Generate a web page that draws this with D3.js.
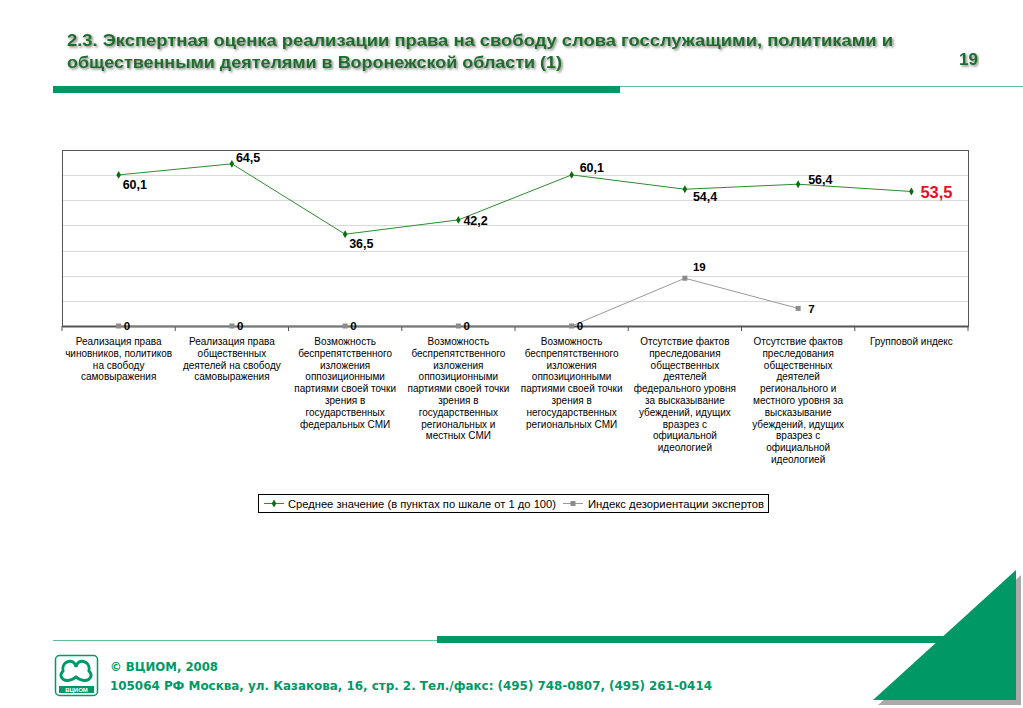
<!DOCTYPE html>
<html lang="ru">
<head>
<meta charset="UTF-8" />
<title>2.3. Экспертная оценка</title>
<script src="https://d3js.org/d3.v7.min.js"></script>
<style>
  body { margin: 0; background: #fff; }
  svg { display: block; font-family: "Liberation Sans", Arial, sans-serif; }
  .grid line { stroke: #d9d9d9; stroke-width: 1px; }
  .catlabel { font-size: 10px; fill: #000; }
  .val { font-weight: bold; }
  .ival { font-size: 11.5px; font-weight: bold; fill: #000; }
  .legend text { font-size: 10.8px; fill: #000; }
</style>
</head>
<body>
<div id="chart"></div>
<script>
const W = 1023, H = 708;

const categories = [
  ["Реализация права", "чиновников, политиков", "на свободу", "самовыражения"],
  ["Реализация права", "общественных", "деятелей на свободу", "самовыражения"],
  ["Возможность", "беспрепятственного", "изложения", "оппозиционными", "партиями своей точки", "зрения в", "государственных", "федеральных СМИ"],
  ["Возможность", "беспрепятственного", "изложения", "оппозиционными", "партиями своей точки", "зрения в", "государственных", "региональных и", "местных СМИ"],
  ["Возможность", "беспрепятственного", "изложения", "оппозиционными", "партиями своей точки", "зрения в", "негосударственных", "региональных СМИ"],
  ["Отсутствие фактов", "преследования", "общественных", "деятелей", "федерального уровня", "за высказывание", "убеждений, идущих", "вразрез с", "официальной", "идеологией"],
  ["Отсутствие фактов", "преследования", "общественных", "деятелей", "регионального и", "местного уровня за", "высказывание", "убеждений, идущих", "вразрез с", "официальной", "идеологией"],
  ["Групповой индекс"]
];
const meanValues = [60.1, 64.5, 36.5, 42.2, 60.1, 54.4, 56.4, 53.5];
const indexValues = [0, 0, 0, 0, 0, 19, 7, null];
const yTicks = [0, 10, 20, 30, 40, 50, 60, 70];
const seriesNames = ["Среднее значение (в пунктах по шкале от 1 до 100)", "Индекс дезориентации экспертов"];

// label placement for mean series: [dx, dy]
const meanLabelOffset = [[4, 14], [4, -2], [4, 14], [5, 5], [8, -3], [8, 12], [10, 0], [9, 7]];
const indexLabelOffset = [[5, 4], [5, 4], [5, 4], [5, 4], [5, 4], [8, -7], [10, 5], [0, 0]];

const green = "#009966";
const titleGreen = "#1a6e2a";

const svg = d3.select("#chart").append("svg").attr("width", W).attr("height", H);

// ---- header
const defs = svg.append("defs");
const sh = defs.append("filter").attr("id", "tshadow").attr("x", "-5%").attr("y", "-20%").attr("width", "110%").attr("height", "150%");
sh.append("feDropShadow").attr("dx", 1.5).attr("dy", 1.5).attr("stdDeviation", 0.9).attr("flood-color", "#666").attr("flood-opacity", 0.8);

const title = svg.append("text").attr("x", 67).attr("y", 46)
  .attr("fill", titleGreen).attr("font-size", 17).attr("font-weight", "bold")
  .attr("filter", "url(#tshadow)");
title.append("tspan").attr("x", 67).attr("y", 46)
  .attr("textLength", 826).attr("lengthAdjust", "spacingAndGlyphs")
  .text("2.3. Экспертная оценка реализации права на свободу слова госслужащими, политиками и");
title.append("tspan").attr("x", 67).attr("y", 68)
  .attr("textLength", 495).attr("lengthAdjust", "spacingAndGlyphs")
  .text("общественными деятелями в Воронежской области (1)");

svg.append("text").attr("x", 978).attr("y", 65).attr("text-anchor", "end")
  .attr("fill", titleGreen).attr("font-size", 17).attr("font-weight", "bold")
  .attr("filter", "url(#tshadow)").text("19");

svg.append("rect").attr("x", 53).attr("y", 86).attr("width", 567).attr("height", 7).attr("fill", green);
svg.append("line").attr("x1", 620).attr("x2", W).attr("y1", 86.5).attr("y2", 86.5)
  .attr("stroke", "#66bb99").attr("stroke-width", 1.2);

// ---- chart
const plot = { left: 62, top: 150, right: 968, bottom: 326 };

const x = d3.scaleBand().domain(d3.range(categories.length))
  .range([plot.left, plot.right]).padding(0);
const y = d3.scaleLinear().domain([0, 70]).range([plot.bottom, plot.top]);
const cx = i => x(i) + x.bandwidth() / 2;

const g = svg.append("g");

g.append("g").attr("class", "grid").selectAll("line")
  .data(yTicks.slice(1, -1)).enter().append("line")
  .attr("x1", plot.left).attr("x2", plot.right)
  .attr("y1", d => Math.round(y(d)) + 0.5).attr("y2", d => Math.round(y(d)) + 0.5);

g.append("rect").attr("x", plot.left + 0.5).attr("y", plot.top + 0.5)
  .attr("width", plot.right - plot.left).attr("height", plot.bottom - plot.top)
  .attr("fill", "none").attr("stroke", "#555").attr("stroke-width", 1);

// x axis with tick marks between categories
const xAxis = g.append("g").attr("transform", `translate(0,${plot.bottom})`)
  .call(d3.axisBottom(x).tickSize(0).tickFormat(""));
xAxis.select(".domain").attr("stroke", "#555").attr("stroke-width", 2);
xAxis.selectAll(".sep").data(d3.range(categories.length + 1)).enter().append("line")
  .attr("x1", i => i < categories.length ? x(i) : plot.right)
  .attr("x2", i => i < categories.length ? x(i) : plot.right)
  .attr("y1", 0).attr("y2", 5).attr("stroke", "#555");

// category labels
const cl = g.append("g").selectAll("text").data(categories).enter().append("text")
  .attr("class", "catlabel").attr("text-anchor", "middle");
cl.each(function (lines, i) {
  d3.select(this).selectAll("tspan").data(lines).enter().append("tspan")
    .attr("x", cx(i)).attr("y", (d, k) => 345 + k * 11.8).text(d => d);
});

// index series (gray)
const idxData = indexValues.map((v, i) => ({ i, v })).filter(d => d.v !== null);
g.append("path").datum(idxData)
  .attr("fill", "none").attr("stroke", "#999").attr("stroke-width", 1)
  .attr("d", d3.line().x(d => cx(d.i)).y(d => y(d.v)));
g.append("g").selectAll("rect").data(idxData).enter().append("rect")
  .attr("x", d => cx(d.i) - 2.5).attr("y", d => y(d.v) - 2.5)
  .attr("width", 5).attr("height", 5).attr("fill", "#8c8c8c");
g.append("g").selectAll("text").data(idxData).enter().append("text")
  .attr("class", "ival")
  .attr("x", d => cx(d.i) + indexLabelOffset[d.i][0])
  .attr("y", d => y(d.v) + indexLabelOffset[d.i][1])
  .text(d => String(d.v).replace(".", ","));

// mean series (green)
const meanData = meanValues.map((v, i) => ({ i, v }));
const last = meanData.length - 1;
g.append("path").datum(meanData)
  .attr("fill", "none").attr("stroke", "#2e8b2e").attr("stroke-width", 1)
  .attr("d", d3.line().x(d => cx(d.i)).y(d => y(d.v)));
const diamond = d3.symbol().type(d3.symbolDiamond).size(18);
g.append("g").selectAll("path").data(meanData).enter().append("path")
  .attr("transform", d => `translate(${cx(d.i)},${y(d.v)})`)
  .attr("d", diamond).attr("fill", "#0a6e0a");
g.append("g").selectAll("text").data(meanData).enter().append("text")
  .attr("class", "val")
  .attr("x", d => cx(d.i) + meanLabelOffset[d.i][0])
  .attr("y", d => y(d.v) + meanLabelOffset[d.i][1])
  .style("font-size", d => d.i === last ? "16.5px" : "12.5px")
  .style("fill", d => d.i === last ? "#e8101e" : "#000")
  .text(d => d.v.toFixed(1).replace(".", ","));

// legend
const lg = svg.append("g").attr("class", "legend");
lg.append("rect").attr("x", 258.5).attr("y", 494.5).attr("width", 510).attr("height", 18)
  .attr("fill", "#fff").attr("stroke", "#000").attr("stroke-width", 1);
lg.append("line").attr("x1", 264).attr("x2", 284).attr("y1", 503.5).attr("y2", 503.5).attr("stroke", "#2e8b2e");
lg.append("path").attr("transform", "translate(274,503.5)").attr("d", diamond).attr("fill", "#0a6e0a");
lg.append("text").attr("x", 288).attr("y", 507.5)
  .attr("textLength", 268).attr("lengthAdjust", "spacingAndGlyphs").text(seriesNames[0]);
lg.append("line").attr("x1", 563).attr("x2", 583).attr("y1", 503.5).attr("y2", 503.5).attr("stroke", "#999");
lg.append("rect").attr("x", 570.5).attr("y", 501).attr("width", 5).attr("height", 5).attr("fill", "#8c8c8c");
lg.append("text").attr("x", 588).attr("y", 507.5)
  .attr("textLength", 176).attr("lengthAdjust", "spacingAndGlyphs").text(seriesNames[1]);

// ---- footer
svg.append("line").attr("x1", 53).attr("x2", 437).attr("y1", 640.5).attr("y2", 640.5)
  .attr("stroke", "#66bb99").attr("stroke-width", 1.2);
svg.append("rect").attr("x", 437).attr("y", 636).attr("width", 520).attr("height", 7).attr("fill", green);
// triangle with shadow
svg.append("path").attr("d", "M1021,575 L1021,705 L878,705 Z").attr("fill", "#aaa");
svg.append("path").attr("d", "M1016,570 L1016,700 L873,700 Z").attr("fill", green);

// logo
const logo = svg.append("g").attr("transform", "translate(55,655)");
logo.append("rect").attr("x", 0.5).attr("y", 0.5).attr("width", 42).attr("height", 40).attr("rx", 4)
  .attr("fill", "#fff").attr("stroke", green).attr("stroke-width", 1.5);
logo.append("path").attr("d", "M8,16 C6,5 20,3 21,12 C22,3 36,5 34,16 C40,22 32,30 21,22 C10,30 2,22 8,16 Z")
  .attr("fill", "none").attr("stroke", green).attr("stroke-width", 3);
logo.append("rect").attr("x", 4).attr("y", 31).attr("width", 35).attr("height", 7).attr("fill", green);
logo.append("text").attr("x", 21.5).attr("y", 37).attr("text-anchor", "middle")
  .attr("font-size", 6).attr("font-weight", "bold").attr("fill", "#fff").text("ВЦИОМ");

svg.append("text").attr("x", 110).attr("y", 671).attr("fill", green)
  .attr("font-family", "'DejaVu Sans', sans-serif").attr("font-size", 12).attr("font-weight", "bold")
  .attr("textLength", 108).attr("lengthAdjust", "spacingAndGlyphs")
  .text("© ВЦИОМ, 2008");
svg.append("text").attr("x", 110).attr("y", 690).attr("fill", green)
  .attr("font-family", "'DejaVu Sans', sans-serif").attr("font-size", 12).attr("font-weight", "bold")
  .attr("textLength", 602).attr("lengthAdjust", "spacingAndGlyphs")
  .text("105064 РФ Москва, ул. Казакова, 16, стр. 2.  Тел./факс: (495) 748-0807, (495) 261-0414");
</script>
</body>
</html>
